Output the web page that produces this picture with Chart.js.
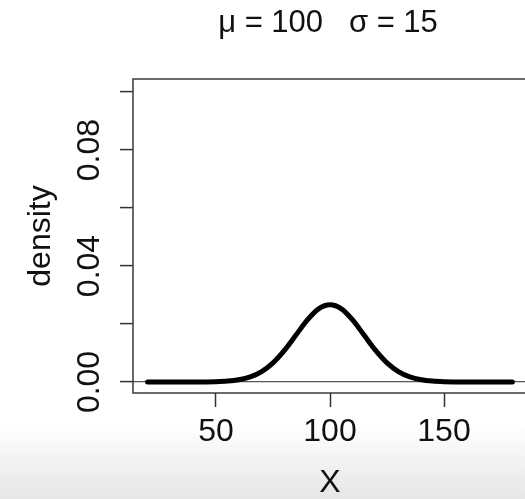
<!DOCTYPE html>
<html>
<head>
<meta charset="utf-8">
<script src="https://cdn.jsdelivr.net/npm/chart.js@4.4.1/dist/chart.umd.min.js"></script>
<style>
  html, body { margin: 0; padding: 0; width: 525px; height: 499px; overflow: hidden; }
  body { background: linear-gradient(to bottom, #fff 0, #fff 425px, #f3f3f3 460px, #e6e6e6 499px); }
  #wrap { position: absolute; left: 0; top: 0; width: 540px; height: 499px; }
</style>
</head>
<body>
<div id="wrap"><canvas id="densityChart" width="540" height="499"></canvas></div>
<script>
// ============================================================
// Normal density, mu = 100, sigma = 15 (R base-graphics look)
// ============================================================

const TITLE = 'μ = 100   σ = 15';

// x values along the curve
const X_VALS = [20, 25, 30, 35, 40, 45, 50, 55, 60, 65, 70, 75, 80, 85, 90, 95, 100,
                105, 110, 115, 120, 125, 130, 135, 140, 145, 150, 155, 160, 165, 170, 175, 180];

// density
const DENSITY = [0, 0, 0, 0, 0.00001, 0.00003, 0.0001, 0.0003, 0.00076, 0.00175, 0.0036, 0.0066,
                 0.0109, 0.0161, 0.0213, 0.0252, 0.0266,
                 0.0252, 0.0213, 0.0161, 0.0109, 0.0066, 0.0036, 0.00175, 0.00076, 0.0003, 0.0001,
                 0.00003, 0.00001, 0, 0, 0, 0];

const X_TICKS = [50, 100, 150];
const Y_TICKS = [0, 0.02, 0.04, 0.06, 0.08, 0.10];
const Y_LABELS = [0, 0.04, 0.08];   // R drops the labels that would collide

const FONT = '"Liberation Sans", Arial, Helvetica, sans-serif';
const INK = '#111';

// R pads the data range by 4% on each side
const X_MIN = 13.6, X_MAX = 186.4;
const Y_MIN = -0.0038, Y_MAX = 0.1045;

// box, rotated y labels and the plotmath-style title
const rFrame = {
  id: 'rFrame',
  afterDraw(chart) {
    const { ctx, chartArea: a, scales } = chart;
    ctx.save();
    ctx.strokeStyle = '#3a3a3a';
    ctx.lineWidth = 1.5;
    ctx.strokeRect(a.left, a.top, a.right - a.left, a.bottom - a.top);

    ctx.fillStyle = INK;
    ctx.textAlign = 'center';
    ctx.textBaseline = 'middle';
    ctx.font = '32px ' + FONT;
    Y_LABELS.forEach(v => {
      const y = scales.y.getPixelForValue(v);
      ctx.save();
      ctx.translate(90, y);
      ctx.rotate(-Math.PI / 2);
      ctx.fillText(v.toFixed(2), 0, 0);
      ctx.restore();
    });

    ctx.font = '31px ' + FONT;
    ctx.fillText(TITLE, (a.left + a.right) / 2 - 2, 23);
    ctx.restore();
  }
};

new Chart(document.getElementById('densityChart'), {
  type: 'line',
  data: {
    datasets: [{
      label: 'density',
      data: X_VALS.map((x, i) => ({ x: x, y: DENSITY[i] })),
      borderColor: '#000',
      borderWidth: 5,
      borderCapStyle: 'round',
      borderJoinStyle: 'round',
      pointRadius: 0,
      cubicInterpolationMode: 'monotone',
      fill: false
    }]
  },
  options: {
    responsive: false,
    animation: false,
    devicePixelRatio: 1,
    layout: { padding: { top: 79, right: 13, left: 0, bottom: 0 } },
    plugins: {
      legend: { display: false },
      tooltip: { enabled: false },
      title: { display: false }
    },
    scales: {
      x: {
        type: 'linear',
        min: X_MIN,
        max: X_MAX,
        afterBuildTicks: s => { s.ticks = X_TICKS.map(v => ({ value: v })); },
        afterFit: s => { s.height = 106; },
        border: { display: false },
        grid: { drawOnChartArea: false, drawTicks: true, tickLength: 14, tickColor: '#333', tickWidth: 1.5 },
        ticks: { color: INK, font: { family: FONT, size: 32 }, padding: 6, maxRotation: 0, autoSkip: false },
        title: { display: true, text: 'X', color: INK, font: { family: FONT, size: 32, lineHeight: 1 }, padding: 0 }
      },
      y: {
        type: 'linear',
        min: Y_MIN,
        max: Y_MAX,
        afterBuildTicks: s => { s.ticks = Y_TICKS.map(v => ({ value: v })); },
        afterFit: s => { s.width = 133; },
        border: { display: false },
        grid: {
          color: c => (c.tick && c.tick.value === 0) ? '#555' : 'rgba(0,0,0,0)',
          lineWidth: 1.2,
          drawTicks: true,
          tickLength: 13,
          tickColor: '#333',
          tickWidth: 1.5
        },
        ticks: { display: false },
        title: { display: true, text: 'density', color: INK, font: { family: FONT, size: 32, lineHeight: 1 }, padding: { top: 25, bottom: 0 } }
      }
    }
  },
  plugins: [rFrame]
});
</script>
</body>
</html>
